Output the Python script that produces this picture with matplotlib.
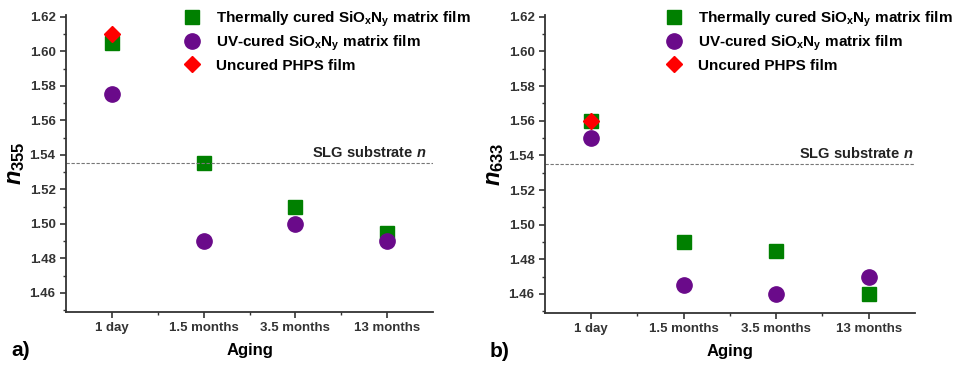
import matplotlib.pyplot as plt
import numpy as np

ages = ['1 day', '1.5 months', '3.5 months', '13 months']

# panel a) n at 355 nm
thermal_355 = [1.605, 1.535, 1.510, 1.495]
uv_355 = [1.575, 1.490, 1.500, 1.490]
uncured_355 = [1.610]

# panel b) n at 633 nm
thermal_633 = [1.560, 1.490, 1.485, 1.460]
uv_633 = [1.550, 1.465, 1.460, 1.470]
uncured_633 = [1.560]

slg_n = 1.535

plt.rcParams['font.family'] = ['Liberation Sans', 'DejaVu Sans']
plt.rcParams['font.weight'] = 'bold'
plt.rcParams['mathtext.fontset'] = 'custom'
plt.rcParams['mathtext.rm'] = 'Liberation Sans:bold'
plt.rcParams['mathtext.bf'] = 'Liberation Sans:bold'
plt.rcParams['mathtext.it'] = 'Liberation Sans:italic:bold'
plt.rcParams['mathtext.bfit'] = 'Liberation Sans:italic:bold'

fig = plt.figure(figsize=(9.57, 3.67), dpi=100)
ax1 = fig.add_axes([0.069, 0.150, 0.3835, 0.809])
ax2 = fig.add_axes([0.5695, 0.147, 0.3865, 0.812])

panels = [(ax1, thermal_355, uv_355, uncured_355, '355', 'a)', 3.43),
          (ax2, thermal_633, uv_633, uncured_633, '633', 'b)', 3.48)]

x = np.arange(len(ages))
for ax, th, uv, unc, wl, tag, tx in panels:
    ax.plot(x, th, 's', color='#008000', ms=10, label=r'Thermally cured SiO$_\mathrm{x}$N$_\mathrm{y}$ matrix film')
    ax.plot(x, uv, 'o', color='#6a0a8a', ms=11, label=r'UV-cured SiO$_\mathrm{x}$N$_\mathrm{y}$ matrix film')
    ax.plot(x[:len(unc)], unc, 'D', color='#ff0000', ms=8, label='Uncured PHPS film')
    ax.axhline(slg_n, color='#777777', ls='--', lw=0.8, dashes=(3, 1.5))
    ax.text(tx, slg_n + 0.002, r'SLG substrate $\mathit{n}$', ha='right', va='bottom',
            fontsize=10.5, fontweight='bold', color='#222222')
    ax.set_xlim(-0.5, 3.5)
    ax.set_ylim(1.449, 1.621)
    ax.set_xticks(x)
    ax.set_xticklabels(ages)
    ax.set_xticks([0.5, 1.5, 2.5], minor=True)
    ax.set_yticks(np.arange(1.46, 1.621, 0.02))
    ax.set_yticks(np.arange(1.45, 1.621, 0.01), minor=True)
    ax.yaxis.set_major_formatter(plt.FormatStrFormatter('%.2f'))
    ax.spines['top'].set_visible(False)
    ax.spines['right'].set_visible(False)
    for s in ['left', 'bottom']:
        ax.spines[s].set_linewidth(1.3)
        ax.spines[s].set_color('#333333')
    ax.tick_params(which='major', length=4, width=1.2, labelsize=9.5, colors='#333333')
    ax.tick_params(which='minor', length=2.5, width=1, colors='#333333')
    ax.set_ylabel(r'$\mathit{n}_\mathrm{%s}$' % wl, fontsize=17, labelpad=2)
    ax.set_xlabel('Aging', fontsize=12, fontweight='bold', labelpad=6)
    ax.legend(loc='upper right', bbox_to_anchor=(1.12, 1.04), frameon=False, fontsize=11,
              handletextpad=0.6, labelspacing=0.35, borderaxespad=0, numpoints=1)
    ax.text(-0.15, -0.13, tag, transform=ax.transAxes, fontsize=15, fontweight='bold',
            ha='left', va='center')

fig.savefig('out.png', dpi=100)
